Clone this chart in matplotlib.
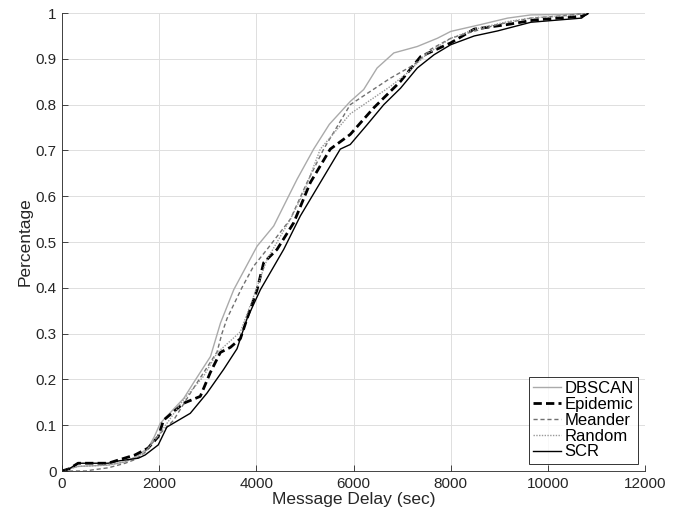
"""
Message delay CDF comparison
"""
import matplotlib
matplotlib.use('Agg')
import matplotlib.pyplot as plt

plt.rcParams['font.family'] = ['Liberation Sans', 'DejaVu Sans']

# --- values ---
dbscan_x = [0, 150, 330, 950, 1300, 1500, 1770, 1900, 2020, 2507, 2708, 3055, 3260, 3534,
            4014, 4356, 4699, 4836, 5178, 5500, 5931, 6207, 6483, 6828, 7310, 7724, 8000,
            8618, 9168, 9649, 10300, 10828]
dbscan_y = [0, 0.005, 0.01, 0.013, 0.02, 0.03, 0.05, 0.075, 0.104, 0.159, 0.193, 0.25, 0.323, 0.396,
            0.491, 0.535, 0.608, 0.637, 0.703, 0.757, 0.807, 0.833, 0.88, 0.913, 0.927, 0.945, 0.96,
            0.975, 0.989, 0.996, 0.997, 1.0]

epidemic_x = [0, 150, 330, 950, 1160, 1500, 1770, 1980, 2089, 2502, 2845, 3051, 3258, 3464,
              3670, 3808, 4014, 4150, 4425, 4767, 5110, 5520, 5931, 6414, 6966, 7379, 8000,
              8481, 9168, 9724, 10690, 10828]
epidemic_y = [0, 0.005, 0.017, 0.017, 0.024, 0.035, 0.05, 0.075, 0.111, 0.148, 0.163, 0.215, 0.259, 0.27,
              0.289, 0.333, 0.396, 0.455, 0.484, 0.542, 0.63, 0.703, 0.735, 0.793, 0.851, 0.905, 0.935,
              0.965, 0.975, 0.985, 0.993, 1.0]

meander_x = [0, 500, 600, 950, 1300, 1500, 1700, 2000, 2290, 2640, 3190, 3290, 3395, 3700,
             3940, 4219, 4699, 5041, 5384, 5931, 6345, 6759, 7241, 7588, 8000, 8275, 8962,
             9649, 10300, 10828]
meander_y = [0, 0, 0.002, 0.007, 0.017, 0.025, 0.04, 0.08, 0.11, 0.17, 0.26, 0.30, 0.333, 0.40,
             0.447, 0.484, 0.55, 0.63, 0.703, 0.80, 0.829, 0.858, 0.887, 0.921, 0.945, 0.954, 0.975,
             0.989, 0.994, 1.0]

random_x = [0, 150, 330, 950, 1300, 1700, 2000, 2502, 2914, 3192, 3670, 3945, 4219, 4699,
            4973, 5315, 5931, 6345, 6759, 7113, 7500, 8000, 8500, 9200, 9700, 10500, 10828]
random_y = [0, 0.005, 0.01, 0.013, 0.02, 0.04, 0.08, 0.156, 0.207, 0.258, 0.304, 0.382, 0.462, 0.55,
            0.608, 0.703, 0.78, 0.81, 0.84, 0.87, 0.91, 0.945, 0.965, 0.982, 0.99, 0.995, 1.0]

scr_x = [0, 150, 330, 950, 1160, 1570, 1710, 1980, 2158, 2639, 2982, 3326, 3601, 3808,
         4082, 4562, 4904, 5315, 5726, 5931, 6276, 6621, 6966, 7310, 7655, 8000, 8481,
         8962, 9649, 10690, 10828]
scr_y = [0, 0.005, 0.017, 0.017, 0.022, 0.028, 0.035, 0.057, 0.096, 0.126, 0.17, 0.222, 0.267, 0.333,
         0.396, 0.484, 0.557, 0.63, 0.703, 0.713, 0.756, 0.8, 0.836, 0.88, 0.909, 0.931, 0.95,
         0.961, 0.98, 0.989, 1.0]

x_ticks = [0, 2000, 4000, 6000, 8000, 10000, 12000]
y_ticks = [0, 0.1, 0.2, 0.3, 0.4, 0.5, 0.6, 0.7, 0.8, 0.9, 1]

fig = plt.figure(figsize=(6.93, 5.23), dpi=100)
ax = fig.add_axes([0.0895, 0.0994, 0.8415, 0.8756])

ax.plot(dbscan_x, dbscan_y, color='#aaaaaa', linewidth=1.0, label='DBSCAN')
ax.plot(epidemic_x, epidemic_y, color='black', linewidth=2.0, linestyle=(0, (3, 1.5)), label='Epidemic')
ax.plot(meander_x, meander_y, color='#707070', linewidth=1.0, linestyle=(0, (3, 2)), label='Meander')
ax.plot(random_x, random_y, color='#999999', linewidth=1.0, linestyle=(0, (1, 1)), label='Random')
ax.plot(scr_x, scr_y, color='black', linewidth=1.0, label='SCR')

ax.set_xlim(0, 12000)
ax.set_ylim(0, 1)
ax.set_xticks(x_ticks)
ax.set_yticks(y_ticks)
ax.set_yticklabels(['0', '0.1', '0.2', '0.3', '0.4', '0.5', '0.6', '0.7', '0.8', '0.9', '1'])
ax.set_xlabel('Message Delay (sec)', fontsize=12.5, color='#262626', labelpad=1)
ax.set_ylabel('Percentage', fontsize=12.5, color='#262626', labelpad=2)
ax.tick_params(direction='in', length=4, width=0.6, labelsize=11, colors='#262626', pad=4)
ax.grid(True, color='#dedede', linewidth=0.7)
ax.set_axisbelow(True)
ax.spines['top'].set_visible(False)
ax.spines['right'].set_visible(False)
for s in ['left', 'bottom']:
    ax.spines[s].set_color('#262626')
    ax.spines[s].set_linewidth(0.6)

leg = ax.legend(loc='lower right', fontsize=12, frameon=True, fancybox=False,
                handlelength=1.65, handletextpad=0.2, borderpad=0.25, labelspacing=0.05,
                borderaxespad=0.45)
leg.get_frame().set_edgecolor('black')
leg.get_frame().set_linewidth(0.7)

plt.savefig('out.png', dpi=100, facecolor='white')
plt.close()
